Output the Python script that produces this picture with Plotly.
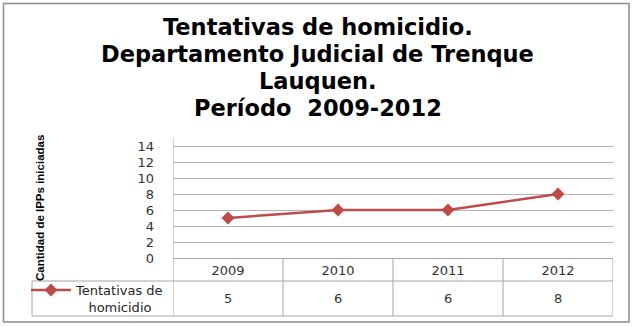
import plotly.graph_objects as go

years = ["2009", "2010", "2011", "2012"]
values = [5, 6, 6, 8]
title_lines = ["Tentativas de homicidio.", "Departamento Judicial de Trenque", "Lauquen.", "Período\u00a0 2009-2012"]
y_title = "Cantidad de IPPs iniciadas"
legend_label = "Tentativas de<br>\u00a0\u00a0\u00a0homicidio"

W, H = 635, 327
ML, MR, MT, MB = 173, 22, 138, 69
PW, PH = W - ML - MR, H - MT - MB

def px_x(p):  # pixel x -> paper x
    return (p - ML) / PW

def px_y(p):  # pixel y -> paper y
    return (H - MB - p) / PH

LINE_RED = "#be4b48"
GRID = "#b3b3b3"
TBL = "#a6a6a6"
TICKFONT = dict(family="DejaVu Sans", size=13, color="#333333")

fig = go.Figure()
fig.add_trace(go.Scatter(
    x=years, y=values, mode="lines+markers",
    name=legend_label,
    line=dict(color=LINE_RED, width=2.5),
    marker=dict(symbol="diamond", size=10, color=LINE_RED),
))

row1 = px_y(281)
row2 = px_y(316)
left_col = px_x(32)
n = len(years)
shapes = []
shapes.append(dict(type="rect", xref="paper", yref="paper", x0=px_x(3.5), x1=px_x(629), y0=px_y(322), y1=px_y(3.5),
                   line=dict(color="#8c8c8c", width=1.5), layer="below"))
shapes.append(dict(type="line", xref="x", yref="paper", x0=-0.5, x1=-0.5, y0=row2, y1=1, line=dict(color=TBL, width=1)))
for i in range(n):
    shapes.append(dict(type="line", xref="x", yref="paper", x0=i + 0.5, x1=i + 0.5, y0=row2, y1=0, line=dict(color=TBL, width=1)))
for yy in (row1, row2):
    shapes.append(dict(type="line", xref="paper", yref="paper", x0=left_col, x1=1, y0=yy, y1=yy, line=dict(color=TBL, width=1)))
shapes.append(dict(type="line", xref="paper", yref="paper", x0=left_col, x1=left_col, y0=row2, y1=row1, line=dict(color=TBL, width=1)))

annotations = []
for i, v in enumerate(values):
    annotations.append(dict(x=i, y=(row1 + row2) / 2, xref="x", yref="paper", text=str(v), showarrow=False,
                            font=TICKFONT, xanchor="center", yanchor="middle"))
annotations.append(dict(x=px_x(40), y=px_y(208), xref="paper", yref="paper", text=y_title, textangle=-90,
                        showarrow=False, font=dict(family="Liberation Sans", size=11.5, color="#000000", weight="bold"),
                        xanchor="center", yanchor="middle"))
title_y = [27, 54, 80.5, 107.5]
for line, yy in zip(title_lines, title_y):
    annotations.append(dict(x=px_x(317.5), y=px_y(yy), xref="paper", yref="paper", text=line, showarrow=False,
                            font=dict(family="DejaVu Sans", size=22.5, color="#000000", weight="bold"),
                            xanchor="center", yanchor="middle"))

fig.update_layout(
    width=W, height=H,
    margin=dict(l=ML, r=MR, t=MT, b=MB, autoexpand=False),
    paper_bgcolor="white", plot_bgcolor="white",
    showlegend=True,
    legend=dict(x=px_x(26), y=px_y(275), xanchor="left", yanchor="top", valign="top",
                bgcolor="rgba(0,0,0,0)", font=dict(family="DejaVu Sans", size=13, color="#262626"), itemwidth=40),
    xaxis=dict(type="category", range=[-0.5, n - 0.5], showgrid=False, showline=True, linecolor=TBL, linewidth=1,
               ticks="", tickfont=TICKFONT, ticklabelstandoff=0, fixedrange=True),
    yaxis=dict(range=[0, 15], tick0=0, dtick=2, showgrid=True, gridcolor=GRID, gridwidth=1, zeroline=False,
               showline=False, ticks="", tickfont=TICKFONT, ticklabelstandoff=18),
    shapes=shapes,
    annotations=annotations,
)

fig.write_html("out.html")
